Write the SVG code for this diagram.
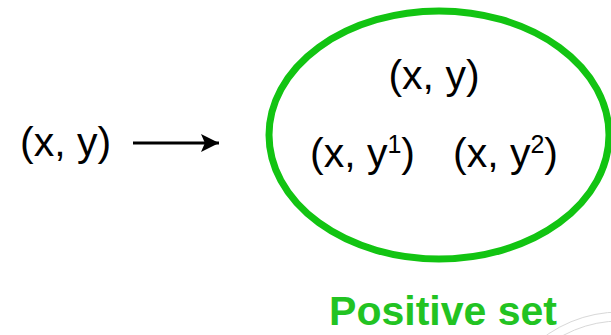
<svg xmlns="http://www.w3.org/2000/svg" width="611" height="335" viewBox="0 0 611 335">
<style>
.t{font-family:"Liberation Sans",Arial,sans-serif;font-size:41px;fill:#000}
.sup{font-size:25px}
.lbl{font-family:"Liberation Sans",Arial,sans-serif;font-size:41px;font-weight:bold;fill:#22c322}
</style>
<defs>
<marker id="ah" markerWidth="6" markerHeight="6" refX="6" refY="3" orient="auto" markerUnits="strokeWidth">
<path d="M0,0 L6,3 L0,6 L1.3,3 Z" fill="#000"/>
</marker>
</defs>
<rect width="611" height="335" fill="#fff"/>
<g id="watermark" fill="none" stroke="#d8d8d8" stroke-width="1">
<circle cx="620" cy="440" r="128"/>
<circle cx="620" cy="440" r="119"/>
</g>
<g id="input">
<text class="t" x="20" y="156">(x, y)</text>
</g>
<g id="connectors">
<line x1="133" y1="143" x2="219" y2="143" stroke="#000" stroke-width="3" marker-end="url(#ah)"/>
</g>
<g id="positive-set">
<ellipse cx="439" cy="135" rx="170" ry="124" fill="none" stroke="#12c412" stroke-width="7"/>
<text class="t" x="434" y="89" text-anchor="middle">(x, y)</text>
<text class="t" x="310" y="167">(x, y<tspan class="sup" dy="-14">1</tspan><tspan dy="14">)</tspan></text>
<text class="t" x="453" y="167">(x, y<tspan class="sup" dy="-14">2</tspan><tspan dy="14">)</tspan></text>
</g>
<g id="label">
<text class="lbl" x="443" y="325" text-anchor="middle">Positive set</text>
</g>
</svg>
